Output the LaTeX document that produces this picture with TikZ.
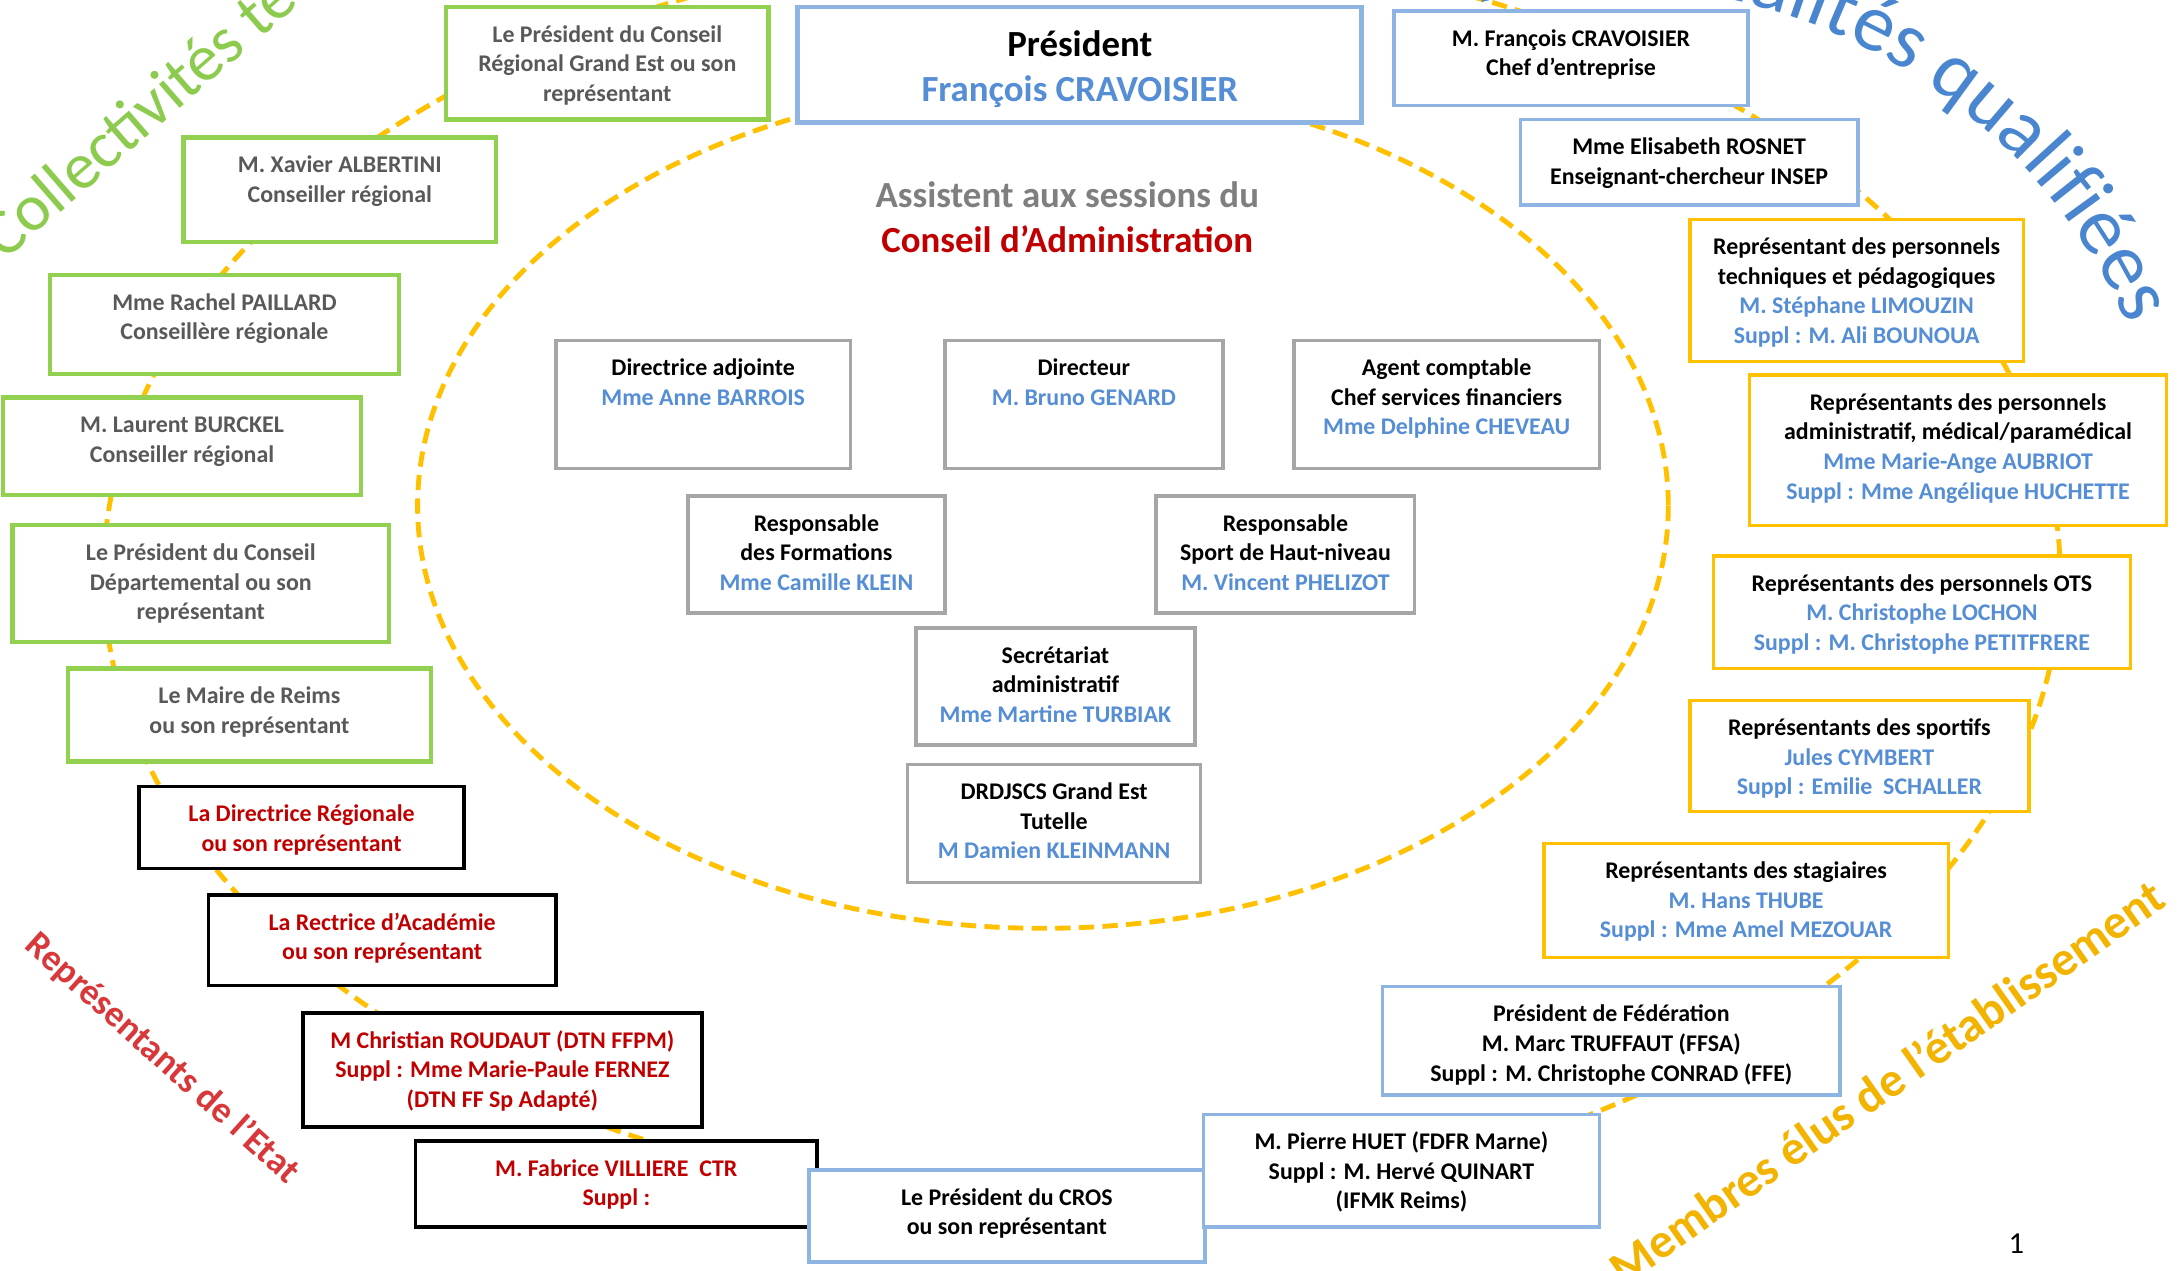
\documentclass[tikz,border=0pt]{standalone}
\usepackage{fontspec}
\setmainfont{Carlito}
\usetikzlibrary{decorations.text}
\definecolor{cgreen}{HTML}{92D050}
\definecolor{corange}{HTML}{FFC000}
\definecolor{cblueb}{HTML}{8EB4E3}
\definecolor{cgrayb}{HTML}{A6A6A6}
\definecolor{tgray}{HTML}{595959}
\definecolor{tgraytitle}{HTML}{7F7F7F}
\definecolor{tred}{HTML}{C00000}
\definecolor{tblue}{HTML}{558ED5}
\definecolor{wgreen}{HTML}{8CCB4E}
\definecolor{wblue}{HTML}{4A86D0}
\definecolor{wred}{HTML}{D9383A}
\definecolor{wgold}{HTML}{F2B400}
\newcommand\bt[3]{\parbox[c][#2pt][t]{#1pt}{\centering\vspace*{10.4pt}\strut #3}}
\newcommand\bl[1]{{\color{tblue}#1}}
\newcommand\qfont{\fontsize{59}{61}\selectfont\color{wblue}}
\begin{document}
\begin{tikzpicture}[x=1pt,y=-1pt,
  bx/.style={draw, fill=white, rectangle, inner sep=0pt, line width=2.5pt, font=\bfseries\fontsize{17.2}{21.3}\selectfont},
  gbox/.style={bx, draw=cgreen, line width=3pt, text=tgray},
  rbox/.style={bx, draw=black, text=tred},
  ubox/.style={bx, draw=cblueb, text=black},
  obox/.style={bx, draw=corange, text=black},
  cbox/.style={bx, draw=cgrayb, text=black},
  dashline/.style={draw=corange, line width=3.5pt, dash pattern=on 11pt off 6pt}]
\useasboundingbox (0,0) rectangle (1568,914.6);
\clip (0,0) rectangle (1568,914.6);
\fill[white] (0,0) rectangle (1568,914.6);
% dashed rings
\path[dashline] (778.5,414) ellipse [x radius=704, y radius=454];
\path[dashline] (750.5,364) ellipse [x radius=450, y radius=304];
% president
\node[bx, draw=cblueb, line width=3.5pt] (pres) at (777,46.5)
  {\parbox[c][83pt][t]{406pt}{\centering\fontsize{26.5}{32}\selectfont\vspace*{13.6pt}\strut Président\\\bl{François CRAVOISIER}}};
% title
\node[anchor=base, font=\bfseries\fontsize{26.5}{32.5}\selectfont] (title) at (768,130.5)
  {\parbox[t]{500pt}{\centering{\color{tgraytitle}Assistent aux sessions du}\\{\color{tred}Conseil d'Administration}}};
% collectivites (green)
\node[gbox] (regge) at (437,45.5) {\bt{232}{81}{Le Président du Conseil\\Régional Grand Est ou son\\représentant}};
\node[gbox] (albertini) at (244.5,136.5) {\bt{225}{75}{M. Xavier ALBERTINI\\Conseiller régional}};
\node[gbox] (paillard) at (161.5,233.5) {\bt{251}{71}{Mme Rachel PAILLARD\\Conseillère régionale}};
\node[gbox] (burckel) at (131,321) {\bt{258}{70}{M. Laurent BURCKEL\\Conseiller régional}};
\node[gbox] (dept) at (144.5,420) {\bt{271}{84}{Le Président du Conseil\\Départemental ou son\\représentant}};
\node[gbox] (maire) at (179.5,514.5) {\bt{261}{67}{Le Maire de Reims\\ou son représentant}};
% etat (black/red)
\node[rbox] (dirreg) at (217,595.5) {\bt{234}{59}{La Directrice Régionale\\ou son représentant}};
\node[rbox] (rectrice) at (275,676.5) {\bt{250}{65}{La Rectrice d’Académie\\ou son représentant}};
\node[rbox] (roudaut) at (361.5,770) {\bt{287}{82}{M Christian ROUDAUT (DTN FFPM)\\Suppl : Mme Marie-Paule FERNEZ\\(DTN FF Sp Adapté)}};
\node[rbox] (villiere) at (443.5,852) {\bt{289}{62}{M. Fabrice VILLIERE~~CTR\\Suppl :}};
% personnalites (blue)
\node[ubox] (cros) at (724.5,875) {\bt{285}{66}{Le Président du CROS\\ou son représentant}};
\node[ubox] (huet) at (1008.5,842.5) {\bt{285}{81}{M. Pierre HUET (FDFR Marne)\\Suppl : M. Hervé QUINART\\(IFMK Reims)}};
\node[ubox] (fed) at (1159.5,749) {\bt{329}{78}{Président de Fédération\\M. Marc TRUFFAUT (FFSA)\\Suppl : M. Christophe CONRAD (FFE)}};
\node[ubox] (rosnet) at (1215.5,116.75) {\bt{243}{61.5}{Mme Elisabeth ROSNET\\Enseignant-chercheur INSEP}};
\node[ubox] (cravoisier) at (1130.5,42) {\bt{255}{68}{M. François CRAVOISIER\\Chef d’entreprise}};
% elus (orange)
\node[obox] (stag) at (1256.5,648) {\bt{291}{82}{Représentants des stagiaires\\\bl{M. Hans THUBE}\\\bl{Suppl : Mme Amel MEZOUAR}}};
\node[obox] (sportifs) at (1338,544) {\bt{244}{80}{Représentants des sportifs\\\bl{Jules CYMBERT}\\\bl{Suppl : Emilie~~SCHALLER}}};
\node[obox] (ots) at (1383,440.5) {\bt{300}{81}{Représentants des personnels OTS\\\bl{M. Christophe LOCHON}\\\bl{Suppl : M. Christophe PETITFRERE}}};
\node[obox] (aubriot) at (1409,324) {\bt{300}{108}{Représentants des personnels\\administratif, médical/paramédical\\\bl{Mme Marie-Ange AUBRIOT}\\\bl{Suppl : Mme Angélique HUCHETTE}}};
\node[obox] (limouzin) at (1336,209) {\bt{240}{102}{Représentant des personnels\\techniques et pédagogiques\\\bl{M. Stéphane LIMOUZIN}\\\bl{Suppl : M. Ali BOUNOUA}}};
% central boxes
\node[cbox] (diradj) at (506,291) {\bt{212}{92}{Directrice adjointe\\\bl{Mme Anne BARROIS}}};
\node[cbox] (directeur) at (780,291) {\bt{200}{92}{Directeur\\\bl{M. Bruno GENARD}}};
\node[cbox] (agent) at (1041,291) {\bt{220}{92}{Agent comptable\\Chef services financiers\\\bl{Mme Delphine CHEVEAU}}};
\node[cbox] (respform) at (587.5,399) {\bt{185}{84}{Responsable\\des Formations\\\bl{Mme Camille KLEIN}}};
\node[cbox] (respsport) at (925,399) {\bt{186}{84}{Responsable\\Sport de Haut-niveau\\\bl{M. Vincent PHELIZOT}}};
\node[cbox] (secr) at (759.5,494) {\bt{201}{84}{Secrétariat\\administratif\\\bl{Mme Martine TURBIAK}}};
\node[cbox] (drdjscs) at (758.5,592.5) {\bt{211}{85}{DRDJSCS Grand Est\\Tutelle\\\bl{M Damien KLEINMANN}}};
% word art
\node[anchor=base west, rotate=41, font=\fontsize{47.5}{50}\selectfont, text=wgreen, inner sep=0pt] (wcoll) at (3,188) {Collectivités territoriales};
\node[anchor=base west, rotate=-42, font=\bfseries\fontsize{26.5}{28}\selectfont, text=wred, inner sep=0pt] (wetat) at (17,682) {Représentants de l’Etat};
\node[anchor=base west, rotate=35.1, font=\bfseries\fontsize{35}{37}\selectfont, text=wgold, inner sep=0pt] (welus) at (1169,926.4) {Membres élus de l'établissement};
\path[decorate, decoration={text along path, text align=right, text={|\qfont|Personnalités qualifiées}}]
  plot[smooth, samples=80, domain=-150:-23.5] ({1160+405*cos(\x)},{396+405*sin(\x)});
\node[anchor=base, font=\fontsize{22}{24}\selectfont, inner sep=0pt] (pnum) at (1451,902) {1};
\end{tikzpicture}
\end{document}
